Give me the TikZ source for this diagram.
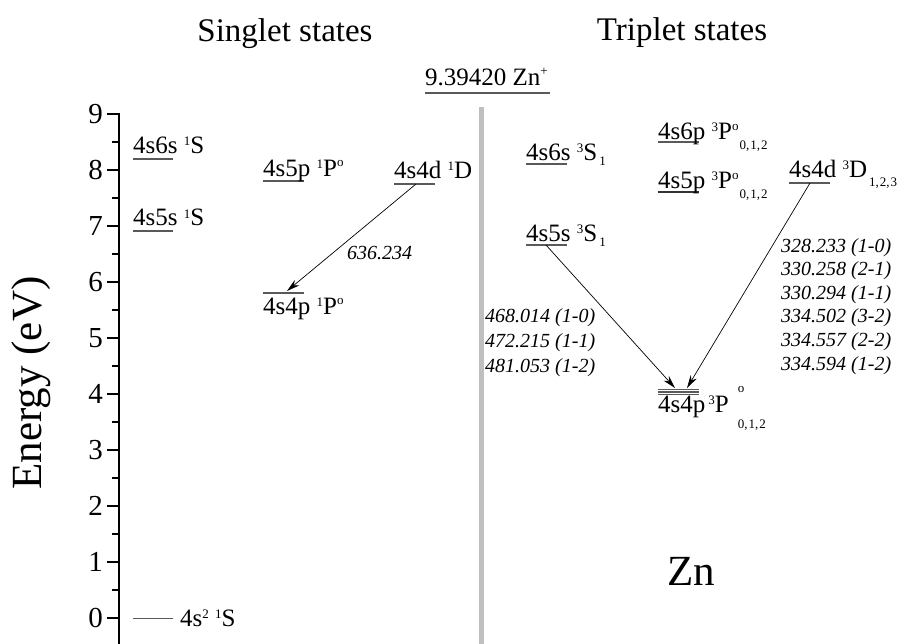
\documentclass[tikz,border=0pt]{standalone}
\usepackage{fontspec}
\setmainfont{Liberation Serif}
\usetikzlibrary{arrows.meta}
\newcommand{\smf}{\fontsize{13}{13}\selectfont}
\newcommand{\mypre}[1]{\raisebox{8pt}{\smf #1}}
\newcommand{\mysub}[2]{\hspace{2pt}\raisebox{-#1}{\smf #2}}
\newcommand{\mystk}[4]{\rlap{\raisebox{#1}{\smf #2}}\raisebox{-#3}{\smf #4}}
\newcommand{\myorb}{\raisebox{10pt}{\smf o}}
\newcommand{\myPo}{P\raisebox{9pt}{\smf o}\hspace{1pt}\raisebox{-10pt}{\smf 0,\kern1pt1,\kern1pt2}}
\begin{document}
\begin{tikzpicture}[x=1pt,y=-1pt,
  lvl/.style={draw=black!65, line width=1.1pt},
  lab/.style={anchor=base west, inner sep=0pt, font=\fontsize{25}{25}\selectfont},
  wl/.style={anchor=base west, inner sep=0pt, font=\fontsize{20}{20}\selectfont\itshape},
  ticklab/.style={anchor=east, inner sep=0pt, font=\fontsize{29}{29}\selectfont},
  ttl/.style={anchor=base, inner sep=0pt, font=\fontsize{33}{33}\selectfont},
  trans/.style={draw=black, line width=0.7pt, -{Stealth[length=13pt,width=7pt]}},
]
\useasboundingbox (0,0) rectangle (904,644);
\fill[white] (0,0) rectangle (904,644);

% axis
\draw[line width=1.6pt] (119,113) -- (119,644);
\foreach \e in {0,...,9}{
  \draw[line width=1.4pt] (107,{618-56*\e}) -- (119,{618-56*\e});
  \node[ticklab] (t\e) at (103,{618-56*\e}) {\e};
}
\foreach \e in {0,...,8}{
  \draw[line width=1.4pt] (112,{618-56*(\e+0.5)}) -- (119,{618-56*(\e+0.5)});
}
\node[rotate=90, inner sep=0pt, font=\fontsize{43}{43}\selectfont] (ylab) at (31,383) {Energy (eV)};

% titles
\node[ttl] (ts) at (285,42) {Singlet states};
\node[ttl] (tt) at (682,41) {Triplet states};

% ionisation
\node[lab] (ion) at (425,86) {9.39420 Zn\raisebox{10pt}{\smf +}};
\draw[lvl] (425,93) -- (550,93);

% separator
\draw[line width=5pt, draw=black!25] (481,107) -- (481,644);

% singlet levels
\draw[lvl] (133,159) -- (173,159);
\node[lab] (s6s) at (133,154) {4s6s \mypre{1}S};
\draw[lvl] (133,231) -- (173,231);
\node[lab] (s5s) at (133,226) {4s5s \mypre{1}S};
\draw[lvl] (263,181) -- (304,181);
\node[lab] (s5p) at (263,177) {4s5p \mypre{1}P\myorb};
\draw[lvl] (394,184) -- (435,184);
\node[lab] (s4d) at (394,179) {4s4d \mypre{1}D};
\draw[lvl] (263,293) -- (304,293);
\node[lab] (s4p) at (263,314) {4s4p \mypre{1}P\myorb};
\draw[draw=black!65, line width=0.9pt] (133,618) -- (173,618);
\node[lab] (g) at (180,626) {4s\raisebox{8pt}{\smf 2} \mypre{1}S};

\coordinate (s4dA) at (416,184);
\coordinate (s4pA) at (287,291);
\draw[trans] (s4dA) -- (s4pA);
\node[wl] (w1) at (347,259) {636.234};

% triplet levels
\draw[lvl] (526,164) -- (567,164);
\node[lab] (t6s) at (526,161) {4s6s \mypre{3}S\mysub{5pt}{1}};
\draw[lvl] (526,245) -- (567,245);
\node[lab] (t5s) at (526,242) {4s5s \mypre{3}S\mysub{5pt}{1}};
\draw[lvl, line width=1.6pt] (658,142) -- (699,142);
\node[lab] (t6p) at (658,140) {4s6p \mypre{3}\myPo};
\draw[lvl, line width=2pt, draw=black!80] (658,192) -- (699,192);
\node[lab] (t5p) at (658,189) {4s5p \mypre{3}\myPo};
\draw[lvl] (789,183) -- (830,183);
\node[lab] (t4d) at (789,178) {4s4d \mypre{3}D\mysub{9pt}{1,\kern1pt2,\kern1pt3}};
\draw[lvl, line width=1.3pt] (658,389.5) -- (699,389.5);
\draw[lvl, line width=1.3pt] (658,392) -- (699,392);
\draw[lvl, line width=1.3pt] (658,394.5) -- (699,394.5);
\node[lab] (t4p) at (658,412) {4s4p\hspace{3pt}\mypre{3}P\hspace{9pt}\mystk{20pt}{o}{16pt}{0,\kern1pt1,\kern1pt2}};

\coordinate (t5sA) at (546,245);
\coordinate (t4pA) at (675,388);
\coordinate (t4dA) at (810,183);
\coordinate (t4pB) at (687,388);
\draw[trans] (t5sA) -- (t4pA);
\draw[trans] (t4dA) -- (t4pB);

\node[wl] (l1) at (485,322) {468.014 (1-0)};
\node[wl] (l2) at (485,347) {472.215 (1-1)};
\node[wl] (l3) at (485,372) {481.053 (1-2)};

\node[wl] (r1) at (781,252) {328.233 (1-0)};
\node[wl] (r2) at (781,275.5) {330.258 (2-1)};
\node[wl] (r3) at (781,299) {330.294 (1-1)};
\node[wl] (r4) at (781,322.5) {334.502 (3-2)};
\node[wl] (r5) at (781,346) {334.557 (2-2)};
\node[wl] (r6) at (781,370) {334.594 (1-2)};

\node[anchor=base west, inner sep=0pt, font=\fontsize{43}{43}\selectfont] (zn) at (667,585) {Zn};
\end{tikzpicture}
\end{document}
